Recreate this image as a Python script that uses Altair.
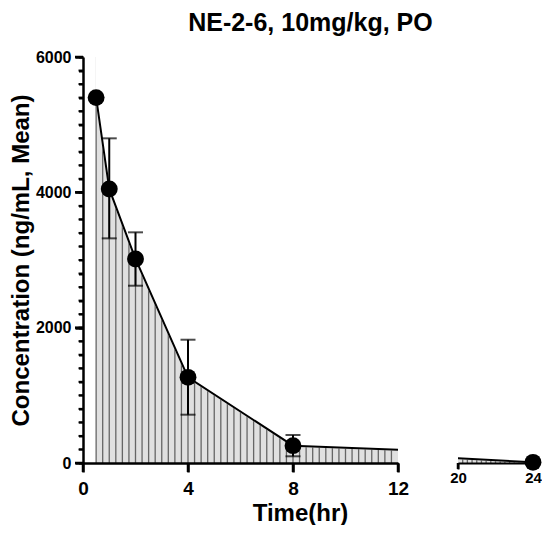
import altair as alt
import pandas as pd

# ---- data ----
time_hr = [0.5, 1, 2, 4, 8, 24]
conc_mean = [5400, 4050, 3015, 1266, 256, 10]
err_low = [None, 3320, 2620, 714, 99, None]
err_high = [None, 4798, 3409, 1822, 414, None]

left_ticks = [0, 4, 8, 12]
right_ticks = [20, 24]
y_major_ticks = [0, 2000, 4000, 6000]
y_minor_ticks = list(range(0, 6001, 200))

title_text = "NE-2-6, 10mg/kg, PO"
x_title = "Time(hr)"
y_title = "Concentration (ng/mL, Mean)"

FONT = "Liberation Sans"
PLOT_H = 406

df = pd.DataFrame({"time": time_hr, "conc": conc_mean, "lo": err_low, "hi": err_high})
df_err = df.dropna()

y_scale = alt.Scale(domain=[0, 6000], nice=False, zero=True)

H_TICK = "M-1,0L1,0"
V_TICK = "M0,-1L0,1"


def make_panel(domain, width, xaxis, yaxis, x_tick_values, x_tick_len, minor_axis=None):
    xs = alt.Scale(domain=domain, nice=False, zero=False)
    xt = xaxis.title if xaxis is not None else None
    xenc = alt.X("time:Q", scale=xs, axis=xaxis, title=xt)
    ykw = dict(scale=y_scale, axis=yaxis, title=y_title)
    inside = f"datum.time >= {domain[0]} && datum.time <= {domain[1]}"
    strictly = f"datum.time > {domain[0]} && datum.time < {domain[1]}"

    fill = alt.Chart(df).mark_area(color="#e0e0e0", clip=True).encode(
        x=xenc, y=alt.Y("conc:Q", **ykw)
    )
    hatch = alt.Chart(alt.sequence(0.5, 24.05, 0.25, as_="time")).transform_filter(
        strictly
    ).transform_calculate(y0="0", y1="6000").mark_rule(
        color="#666666", strokeWidth=1.3, clip=True
    ).encode(x=xenc, y=alt.Y("y0:Q", **ykw), y2="y1:Q")
    mask = alt.Chart(df).transform_calculate(top="6000").mark_area(
        color="white", stroke="white", strokeWidth=2, clip=True
    ).encode(x=xenc, y=alt.Y("conc:Q", **ykw), y2="top:Q")
    line = alt.Chart(df).mark_line(color="black", strokeWidth=2, clip=True).encode(
        x=xenc, y=alt.Y("conc:Q", **ykw)
    )
    ebar = alt.Chart(df_err).transform_filter(inside).mark_rule(
        color="black", strokeWidth=2
    ).encode(x=xenc, y=alt.Y("lo:Q", **ykw), y2="hi:Q")
    cap_lo = alt.Chart(df_err).transform_filter(inside).mark_tick(
        color="black", orient="horizontal", size=15, thickness=2
    ).encode(x=xenc, y=alt.Y("lo:Q", **ykw))
    cap_hi = alt.Chart(df_err).transform_filter(inside).mark_tick(
        color="black", orient="horizontal", size=15, thickness=2
    ).encode(x=xenc, y=alt.Y("hi:Q", **ykw))
    pts = alt.Chart(df).transform_filter(inside).mark_point(
        filled=True, color="black", opacity=1, size=285
    ).encode(x=xenc, y=alt.Y("conc:Q", **ykw))
    # explicit x-axis tick strokes
    xticks = alt.Chart(pd.DataFrame({"time": x_tick_values})).mark_point(
        shape=V_TICK, filled=False, stroke="black", strokeWidth=2.5, opacity=1,
        size=x_tick_len ** 2,
    ).encode(x=xenc, y=alt.value(PLOT_H + x_tick_len / 2))
    layers = [fill, hatch, mask, line, ebar, cap_lo, cap_hi, pts, xticks]
    if minor_axis is not None:
        # explicit major y-tick strokes
        yticks = alt.Chart(pd.DataFrame({"conc": y_major_ticks})).mark_point(
            shape=H_TICK, filled=False, stroke="black", strokeWidth=2.5, opacity=1,
            size=64,
        ).encode(x=alt.value(-4), y=alt.Y("conc:Q", **ykw))
        layers.append(yticks)
    main = alt.layer(*layers)
    if minor_axis is not None:
        minor = alt.Chart(alt.sequence(0, 6001, 200, as_="v")).mark_point(
            shape=H_TICK, filled=False, stroke="black", strokeWidth=2, opacity=1,
            size=20,
        ).encode(
            x=alt.value(-2.25),
            y=alt.Y("v:Q", scale=y_scale, axis=minor_axis, title=None),
        )
        return alt.layer(main, minor).resolve_axis(y="independent").properties(
            width=width, height=PLOT_H
        )
    return main.properties(width=width, height=PLOT_H)


left_xaxis = alt.Axis(
    values=left_ticks, format="d", ticks=True, tickColor="black", tickOpacity=1,
    tickSize=9, tickWidth=2.5, domainWidth=2.5,
    labelFontSize=19, labelFont=FONT, labelFontWeight="bold", labelPadding=7,
    labelFlush=False, grid=False, title=x_title, titleFont=FONT, titleFontSize=24,
    titleFontWeight="bold", titlePadding=3, titleX=217, zindex=1,
)
left_yaxis = alt.Axis(
    orient="left", values=y_major_ticks, format="d", ticks=True, tickColor="black",
    tickOpacity=1, tickSize=8, tickWidth=2.5, domainWidth=2.5,
    labelFontSize=16, labelFont=FONT, labelFontWeight="bold", labelPadding=4,
    grid=False, title=y_title, titleFont=FONT, titleFontSize=24,
    titleFontWeight="bold", titlePadding=2, zindex=1,
)
minor_yaxis = alt.Axis(
    orient="left", values=y_minor_ticks, ticks=True, tickColor="black", tickOpacity=1,
    tickSize=4.5, tickWidth=2, labels=False, domain=False, grid=False, zindex=1,
)
right_xaxis = alt.Axis(
    values=right_ticks, format="d", ticks=True, tickColor="black", tickOpacity=1,
    tickSize=6, tickWidth=2, domainWidth=2,
    labelFontSize=15, labelFont=FONT, labelFontWeight="bold", labelPadding=1,
    labelFlush=False, grid=False, title=None, zindex=1,
)

left = make_panel([0, 12], 315, left_xaxis, left_yaxis, left_ticks, 9, minor_axis=minor_yaxis)
right = make_panel([20, 24], 75, right_xaxis, None, right_ticks, 6)

chart = alt.hconcat(left, right, spacing=40).properties(
    title=alt.TitleParams(
        title_text, font=FONT, fontSize=25, fontWeight="bold", anchor="middle",
        offset=13, dx=35, color="black",
    ),
    padding={"left": 1, "top": 3, "right": 0, "bottom": 0},
).configure_view(stroke=None).configure_axis(
    domainColor="black", tickColor="black", labelColor="black", titleColor="black"
)

chart.save("out.html", embed_options={"renderer": "svg", "actions": False})
